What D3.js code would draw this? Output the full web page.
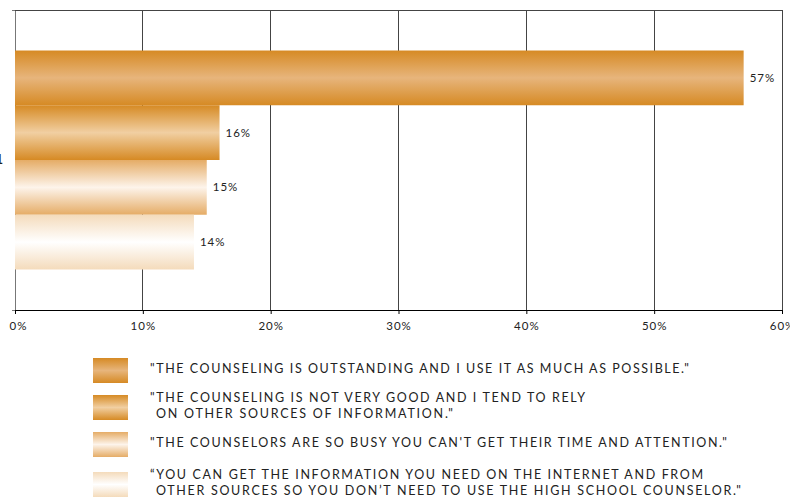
<!DOCTYPE html>
<html>
<head>
<meta charset="utf-8">
<script src="https://cdn.jsdelivr.net/npm/d3@7"></script>
<style>
  html, body { margin: 0; padding: 0; background: #fff; }
  svg { display: block; }
  text { font-family: Lato, "Open Sans", sans-serif; fill: #222; }
</style>
</head>
<body>
<svg id="chart" width="790" height="504"></svg>
<script>
// Survey answers and their shares
const series = [
  "\"THE COUNSELING IS OUTSTANDING AND I USE IT AS MUCH AS POSSIBLE.\"",
  "\"THE COUNSELING IS NOT VERY GOOD AND I TEND TO RELY ON OTHER SOURCES OF INFORMATION.\"",
  "\"THE COUNSELORS ARE SO BUSY YOU CAN'T GET THEIR TIME AND ATTENTION.\"",
  "\u201CYOU CAN GET THE INFORMATION YOU NEED ON THE INTERNET AND FROM OTHER SOURCES SO YOU DON\u2019T NEED TO USE THE HIGH SCHOOL COUNSELOR.\""
];
const values = [0.57, 0.16, 0.15, 0.14];
const legendLines = [
  ["\"THE COUNSELING IS OUTSTANDING AND I USE IT AS MUCH AS POSSIBLE.\""],
  ["\"THE COUNSELING IS NOT VERY GOOD AND I TEND TO RELY", " ON OTHER SOURCES OF INFORMATION.\""],
  ["\"THE COUNSELORS ARE SO BUSY YOU CAN'T GET THEIR TIME AND ATTENTION.\""],
  ["\u201CYOU CAN GET THE INFORMATION YOU NEED ON THE INTERNET AND FROM", " OTHER SOURCES SO YOU DON\u2019T NEED TO USE THE HIGH SCHOOL COUNSELOR.\""]
];
const xTicks = [0, 0.1, 0.2, 0.3, 0.4, 0.5, 0.6];
const category = ["1"];

// Gradient stops per series: edge colour, centre colour
const shades = [
  ["#d68a24", "#e7b57c"],
  ["#d68a24", "#f1cfa2"],
  ["#e5ac66", "#fdf4eb"],
  ["#f4dbbb", "#ffffff"]
];

const svg = d3.select("#chart");
const plot = { left: 15, right: 782, top: 10, bottom: 310 };

const x = d3.scaleLinear().domain([0, 0.6]).range([plot.left, plot.right]);
const yCat = d3.scaleBand().domain(category).range([plot.top, plot.bottom]);
const y = d3.scaleBand().domain(series)
  .range([yCat(category[0]), yCat(category[0]) + yCat.bandwidth()])
  .paddingInner(0).paddingOuter(0.74);

// Vertical gradients for bars and swatches
const defs = svg.append("defs");
shades.forEach((s, i) => {
  const g = defs.append("linearGradient")
    .attr("id", "grad" + i).attr("x1", 0).attr("y1", 0).attr("x2", 0).attr("y2", 1);
  g.append("stop").attr("offset", "0%").attr("stop-color", s[0]);
  g.append("stop").attr("offset", "50%").attr("stop-color", s[1]);
  g.append("stop").attr("offset", "100%").attr("stop-color", s[0]);
});

// Grid lines
svg.append("g")
  .selectAll("line").data(xTicks.slice(1)).join("line")
  .attr("x1", d => x(d)).attr("x2", d => x(d))
  .attr("y1", plot.top).attr("y2", plot.bottom)
  .attr("stroke", "#444").attr("stroke-width", 1).attr("shape-rendering", "crispEdges");
svg.append("line")
  .attr("x1", plot.left).attr("x2", plot.right)
  .attr("y1", plot.top).attr("y2", plot.top)
  .attr("stroke", "#444").attr("shape-rendering", "crispEdges");

// Category axis
const yAxis = svg.append("g")
  .attr("transform", `translate(${plot.left},0)`)
  .call(d3.axisLeft(yCat).tickSize(0).tickPadding(6));
yAxis.select(".domain").attr("stroke", "#777").attr("shape-rendering", "crispEdges");
yAxis.selectAll("text").attr("font-size", 13).attr("font-weight", 700).attr("fill", "#444")
  .attr("font-family", "Lato, sans-serif").attr("dx", -6);
svg.append("g").selectAll("line").data([plot.top, plot.bottom]).join("line")
  .attr("x1", plot.left - 3).attr("x2", plot.left)
  .attr("y1", d => d).attr("y2", d => d)
  .attr("stroke", "#777").attr("shape-rendering", "crispEdges");

// Bars
svg.append("g").selectAll("rect").data(series).join("rect")
  .attr("x", x(0))
  .attr("y", d => y(d))
  .attr("width", (d, i) => x(values[i]) - x(0))
  .attr("height", y.bandwidth())
  .attr("fill", (d, i) => `url(#grad${i})`);

// Value labels
svg.append("g").selectAll("text").data(series).join("text")
  .attr("x", (d, i) => x(values[i]) + 6)
  .attr("y", d => y(d) + y.bandwidth() / 2 + 4)
  .attr("font-size", 11.5)
  .attr("letter-spacing", 1)
  .attr("fill", "#1a1a1a")
  .text((d, i) => d3.format(".0%")(values[i]));

// Value axis
const xAxis = svg.append("g")
  .attr("transform", `translate(0,${plot.bottom})`)
  .call(d3.axisBottom(x).tickValues(xTicks).tickFormat(d3.format(".0%")).tickSize(4).tickPadding(8));
xAxis.select(".domain").attr("stroke", "#000").attr("shape-rendering", "crispEdges");
xAxis.selectAll(".tick line").attr("stroke", "#000");
xAxis.selectAll("text")
  .attr("font-size", 11.5).attr("letter-spacing", 1).attr("fill", "#1a1a1a")
  .attr("font-family", "Lato, sans-serif")
  .attr("dx", (d, i) => i === 0 ? 3 : 0);

// Legend
const legendTop = [358, 395, 432, 472];
const lineGap = 16;
const lineWidths = [[539], [435, 297], [577], [553, 585]];
const lg = svg.append("g");
series.forEach((s, i) => {
  lg.append("rect")
    .attr("x", 93).attr("y", legendTop[i])
    .attr("width", 35).attr("height", 25)
    .attr("fill", `url(#grad${i})`);
  const lines = legendLines[i];
  const baseY = lines.length === 1 ? legendTop[i] + 14.7 : legendTop[i] + 6.7;
  lines.forEach((t, j) => {
    const indent = j > 0 ? 6 : 0;
    lg.append("text")
      .attr("x", 150 + indent)
      .attr("y", baseY + j * lineGap)
      .attr("font-size", 12.5)
      .attr("textLength", lineWidths[i][j])
      .attr("lengthAdjust", "spacing")
      .attr("fill", "#1a1a1a")
      .text(t.trim());
  });
});
</script>
</body>
</html>
